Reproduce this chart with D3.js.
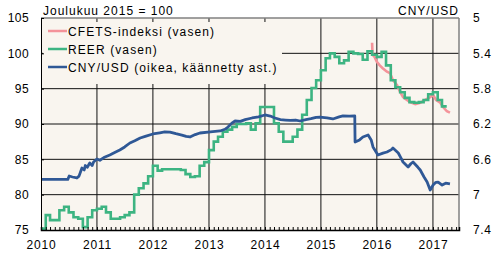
<!DOCTYPE html>
<html>
<head>
<meta charset="utf-8">
<script src="https://cdn.jsdelivr.net/npm/d3@7"></script>
<style>
  body { margin: 0; background: #fff; }
  text { font-family: "Liberation Sans", Arial, sans-serif; font-size: 12px; fill: #000; }
</style>
</head>
<body>
<div id="chart"></div>
<script>
// CNY/USD (right axis, inverted)
const cnyDates = ["2010-01-01","2010-06-25","2010-07-04","2010-07-25","2010-08-23","2010-09-06","2010-09-25","2010-10-10","2010-10-17","2010-10-30","2010-11-15","2010-12-01","2010-12-10",
  "2011-01-01","2011-01-20","2011-02-15","2011-03-26","2011-04-30","2011-05-30","2011-07-01","2011-08-04","2011-09-05","2011-10-10","2011-11-12",
  "2012-01-01","2012-02-15","2012-03-18","2012-04-21","2012-05-30","2012-07-08","2012-08-05","2012-08-30","2012-10-03","2012-11-03",
  "2013-01-10","2013-03-14","2013-04-15","2013-05-05","2013-05-30","2013-06-20","2013-07-25","2013-08-25","2013-10-09","2013-11-20",
  "2014-01-01","2014-02-05","2014-03-07","2014-04-12","2014-05-15","2014-06-15","2014-07-20","2014-08-18","2014-09-25","2014-10-28","2014-12-01","2014-12-26",
  "2015-02-10","2015-03-20","2015-04-30","2015-05-25","2015-07-05","2015-08-10","2015-08-12","2015-09-10","2015-10-02","2015-11-05","2015-11-25","2015-12-07",
  "2016-01-08","2016-02-10","2016-03-07","2016-04-05","2016-04-15","2016-05-20","2016-06-05","2016-06-20","2016-07-23","2016-08-10","2016-08-24","2016-09-25","2016-10-10","2016-11-04","2016-11-24","2016-12-14",
  "2017-01-02","2017-01-20","2017-02-04","2017-03-02","2017-03-25","2017-04-22"];
const cnyValues = [6.827,6.827,6.789,6.80,6.811,6.79,6.698,6.72,6.67,6.69,6.642,6.67,6.63,
  6.596,6.61,6.58,6.551,6.52,6.494,6.46,6.415,6.39,6.359,6.34,
  6.313,6.30,6.29,6.291,6.31,6.325,6.34,6.347,6.32,6.302,
  6.29,6.279,6.26,6.234,6.19,6.166,6.17,6.15,6.132,6.12,
  6.098,6.11,6.132,6.15,6.155,6.16,6.155,6.166,6.15,6.14,6.125,6.121,
  6.13,6.143,6.12,6.109,6.11,6.109,6.404,6.38,6.347,6.325,6.38,6.46,
  6.551,6.53,6.517,6.49,6.472,6.528,6.58,6.63,6.687,6.65,6.63,6.69,6.721,6.80,6.857,6.947,
  6.891,6.86,6.857,6.891,6.87,6.879];

// CFETS index (left axis)
const cfetsDates = ["2015-12-01","2015-12-04","2015-12-17","2016-01-01","2016-01-20","2016-02-08","2016-03-07","2016-03-27","2016-04-15","2016-05-12",
  "2016-06-02","2016-06-20","2016-07-15","2016-08-05","2016-09-08","2016-10-10","2016-11-12","2016-12-14","2017-01-02","2017-01-22",
  "2017-02-18","2017-03-08","2017-04-02","2017-04-22"];
const cfetsValues = [101.5,99.8,99.5,98.8,98.3,97.9,97.4,97.2,96.2,95.5,
  94.5,93.8,93.4,93.1,92.8,93.0,93.4,93.8,94.1,93.4,
  93.0,92.4,91.8,91.6];

// REER monthly (left axis), Jan 2010 onwards
const reerStart = "2010-01-01";
const reerValues = [75.2,77.1,76.4,76.4,77.8,78.3,77.5,76.8,76.6,75.4,76.8,77.8,
  78.0,78.3,77.5,76.6,76.6,76.8,77.1,77.5,80.0,80.9,81.6,82.6,
  84.1,83.4,83.6,83.6,83.6,83.6,83.5,82.9,82.5,82.6,84.1,84.6,
  86.3,87.5,88.2,88.9,89.2,89.6,90.0,90.0,90.1,89.2,90.1,92.4,
  92.4,92.4,90.1,88.9,87.5,87.5,88.2,89.2,91.3,93.4,95.1,96.2,
  97.6,99.3,100.0,99.5,98.6,99.0,100.2,100.0,99.9,99.1,100.3,99.8,
  99.5,100.2,98.3,96.2,95.2,94.5,93.7,93.1,93.0,93.1,93.4,94.2,
  94.5,93.4,92.5];

const leftTicks = [75, 80, 85, 90, 95, 100, 105];
const rightTicks = [5, 5.4, 5.8, 6.2, 6.6, 7, 7.4];
const yearTicks = [2010, 2011, 2012, 2013, 2014, 2015, 2016, 2017];
const legendLabels = ["CFETS-indeksi (vasen)", "REER (vasen)", "CNY/USD (oikea, käännetty ast.)"];
const colors = ["#f4939a", "#3db482", "#2f5896"];

const width = 500, height = 254;
const plot = {left: 41, top: 18, right: 459, bottom: 230};
const bg = "#f9f5ef";
const parse = d3.timeParse("%Y-%m-%d");

const svg = d3.select("#chart").append("svg")
    .attr("width", width)
    .attr("height", height);

const x = d3.scaleTime()
    .domain([parse("2010-01-01"), parse("2017-06-20")])
    .range([plot.left, plot.right]);
const yL = d3.scaleLinear().domain([75, 105]).range([plot.bottom, plot.top]);
const yR = d3.scaleLinear().domain([5, 7.4]).range([plot.top, plot.bottom]);

svg.append("rect")
    .attr("x", plot.left).attr("y", plot.top)
    .attr("width", plot.right - plot.left).attr("height", plot.bottom - plot.top)
    .attr("fill", bg);

// gridlines
svg.append("g").selectAll("line")
    .data(leftTicks.slice(1, -1))
    .join("line")
    .attr("x1", plot.left).attr("x2", plot.right)
    .attr("y1", d => yL(d)).attr("y2", d => yL(d))
    .attr("stroke", "#111");
svg.append("g").selectAll("line")
    .data(yearTicks.slice(1))
    .join("line")
    .attr("x1", d => x(new Date(d, 0, 1))).attr("x2", d => x(new Date(d, 0, 1)))
    .attr("y1", plot.top).attr("y2", plot.bottom)
    .attr("stroke", "#111");

// legend background hides the grid
svg.append("rect")
    .attr("x", 43).attr("y", 22).attr("width", 239).attr("height", 62)
    .attr("fill", bg);

svg.append("clipPath").attr("id", "clip")
  .append("rect")
    .attr("x", plot.left).attr("y", plot.top)
    .attr("width", plot.right - plot.left).attr("height", plot.bottom - plot.top);

const cfetsData = cfetsDates.map((d, i) => ({date: parse(d), value: cfetsValues[i]}));
const reerData = reerValues.map((v, i) => ({date: d3.timeMonth.offset(parse(reerStart), i), value: v}));
reerData.push({date: d3.timeMonth.offset(parse(reerStart), reerValues.length), value: reerValues[reerValues.length - 1]});
const cnyData = cnyDates.map((d, i) => ({date: parse(d), value: cnyValues[i]}));

const lines = svg.append("g").attr("clip-path", "url(#clip)");

lines.append("path")
    .datum(cfetsData)
    .attr("fill", "none").attr("stroke", colors[0]).attr("stroke-width", 2.6)
    .attr("d", d3.line().x(d => x(d.date)).y(d => yL(d.value)));

lines.append("path")
    .datum(reerData)
    .attr("fill", "none").attr("stroke", colors[1]).attr("stroke-width", 2.6)
    .attr("d", d3.line().curve(d3.curveStepAfter).x(d => x(d.date)).y(d => yL(d.value)));

lines.append("path")
    .datum(cnyData)
    .attr("fill", "none").attr("stroke", colors[2]).attr("stroke-width", 2.8)
    .attr("stroke-linejoin", "round")
    .attr("d", d3.line().x(d => x(d.date)).y(d => yR(d.value)));

// frame
svg.append("line").attr("x1", plot.left).attr("x2", plot.right).attr("y1", plot.top).attr("y2", plot.top)
    .attr("stroke", "#808080").attr("stroke-width", 1.5);
svg.append("line").attr("x1", plot.right).attr("x2", plot.right).attr("y1", plot.top).attr("y2", plot.bottom)
    .attr("stroke", "#808080").attr("stroke-width", 1.5);

// axes
const leftAxis = svg.append("g")
    .attr("transform", `translate(${plot.left},0)`)
    .call(d3.axisRight(yL).tickValues(leftTicks).tickSize(3).tickFormat(""));
leftAxis.select(".domain").attr("stroke", "#000");

svg.append("g")
    .attr("transform", `translate(${plot.left},0)`)
    .call(d3.axisLeft(yL).tickValues(leftTicks).tickSize(0).tickPadding(12))
    .call(g => g.select(".domain").remove())
    .selectAll("text").style("font-size", "12px").style("letter-spacing", "0.4px");

svg.append("g")
    .attr("transform", `translate(${plot.right},0)`)
    .call(d3.axisRight(yR).tickValues(rightTicks).tickSize(0).tickPadding(14).tickFormat(d3.format("")))
    .call(g => g.select(".domain").remove())
    .selectAll("text").style("font-size", "12px").style("letter-spacing", "0.6px");

const bottom = svg.append("g")
    .attr("transform", `translate(0,${plot.bottom})`)
    .call(d3.axisBottom(x).ticks(d3.timeMonth).tickSize(-3).tickFormat(""));
bottom.select(".domain").attr("stroke", "#000").attr("stroke-width", 1.5);

svg.append("g")
    .attr("transform", `translate(0,${plot.bottom})`)
    .call(d3.axisBottom(x).tickValues(yearTicks.map(d => new Date(d, 0, 1))).tickSize(0).tickPadding(10)
      .tickFormat(d3.timeFormat("%Y")))
    .call(g => g.select(".domain").remove())
    .selectAll("text").style("font-size", "12px").style("letter-spacing", "0.8px");

// titles
svg.append("text").attr("x", 43).attr("y", 14.5)
    .style("letter-spacing", "1px").text("Joulukuu 2015 = 100");
svg.append("text").attr("x", 459).attr("y", 14.5).attr("text-anchor", "end")
    .style("letter-spacing", "1px").text("CNY/USD");

// legend
const legend = svg.append("g").selectAll("g")
    .data(legendLabels)
    .join("g")
    .attr("transform", (d, i) => `translate(48,${31 + i * 18})`);
legend.append("line")
    .attr("x1", 0).attr("x2", 19)
    .attr("stroke", (d, i) => colors[i]).attr("stroke-width", 2.5);
legend.append("text")
    .attr("x", 20).attr("y", 4.5)
    .style("letter-spacing", "1.1px")
    .text(d => d);
</script>
</body>
</html>
